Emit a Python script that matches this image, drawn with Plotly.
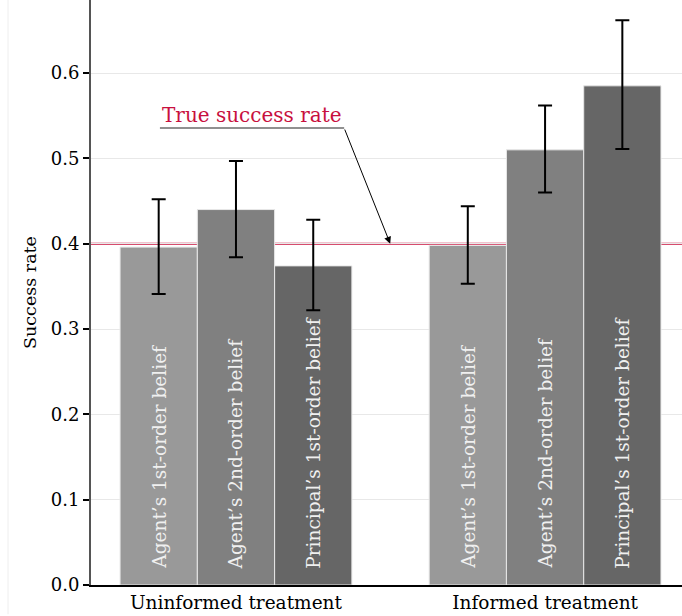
import plotly.graph_objects as go

categories = ["Uninformed treatment", "Informed treatment"]
series_names = ["Agent\u2019s 1st-order belief", "Agent\u2019s 2nd-order belief", "Principal\u2019s 1st-order belief"]
values = [
    [0.396, 0.398],
    [0.440, 0.510],
    [0.374, 0.585],
]
err_plus = [
    [0.056, 0.046],
    [0.057, 0.052],
    [0.054, 0.077],
]
err_minus = [
    [0.055, 0.045],
    [0.056, 0.050],
    [0.052, 0.074],
]
true_rate = 0.4
y_ticks = [0.0, 0.1, 0.2, 0.3, 0.4, 0.5, 0.6]

colors = ["#999999", "#808080", "#666666"]
FONT = "DejaVu Serif"
RED = "#c8103e"
FS = 18.5
BARGAP = 0.25
n_series = len(series_names)
bar_w = (1 - BARGAP) / n_series

fig = go.Figure()
for i, name in enumerate(series_names):
    fig.add_trace(go.Bar(
        x=categories, y=values[i], name=name,
        marker=dict(color=colors[i], line=dict(color="#e8e8e8", width=1)),
        error_y=dict(type="data", array=err_plus[i], arrayminus=err_minus[i],
                     color="black", thickness=2, width=7),
        cliponaxis=False,
    ))
    for c in range(len(categories)):
        fig.add_annotation(x=c + (i - (n_series - 1) / 2) * bar_w, y=0, xref="x", yref="y",
                           text=name, textangle=-90, showarrow=False,
                           yanchor="bottom", xanchor="center", yshift=14,
                           font=dict(family=FONT, size=FS, color="#f0f0f0"))

fig.add_shape(type="line", xref="paper", yref="y", x0=0, x1=1, y0=true_rate, y1=true_rate,
              line=dict(color=RED, width=2), layer="below")
# underline of label
fig.add_shape(type="line", xref="x", yref="y", x0=-0.246, x1=0.350, y0=0.5356, y1=0.5356,
              line=dict(color="#222222", width=1.2))
fig.add_annotation(x=0.052, y=0.5356, xref="x", yref="y", text="True success rate",
                   showarrow=False, yanchor="bottom", yshift=-1,
                   font=dict(family=FONT, size=20, color=RED))
fig.add_annotation(x=0.499, y=true_rate, xref="x", yref="y", text="",
                   showarrow=True, ax=0.350, ay=0.5356, axref="x", ayref="y",
                   arrowhead=2, arrowsize=1.4, arrowwidth=1, arrowcolor="black", standoff=0)
# faint figure border on the left
fig.add_shape(type="line", xref="paper", yref="paper", x0=-0.1404, x1=-0.1404, y0=-0.05, y1=1.0,
              line=dict(color="#eeeeee", width=1))

fig.update_layout(
    width=682, height=616,
    margin=dict(l=91, r=0, t=0, b=31, autoexpand=False),
    plot_bgcolor="white", paper_bgcolor="white",
    barmode="group", bargap=BARGAP, bargroupgap=0,
    showlegend=False,
    font=dict(family=FONT, size=FS, color="black"),
)
fig.update_xaxes(range=[-0.469, 1.443], showline=True, linecolor="black", linewidth=2,
                 ticks="", showgrid=False, tickfont=dict(family=FONT, size=FS), automargin=False)
fig.update_yaxes(range=[0, 0.6856], tickvals=y_ticks, tickformat=".1f",
                 showline=True, linecolor="#555555", linewidth=2,
                 ticks="outside", ticklen=6, tickcolor="black", tickwidth=1.5,
                 showgrid=True, gridcolor="#e8e8e8", gridwidth=1, zeroline=False,
                 title=dict(text="Success rate", font=dict(family=FONT, size=17.5), standoff=10),
                 tickfont=dict(family=FONT, size=18), automargin=False)

fig.write_html("out.html", config={"displayModeBar": False},
               post_script="document.body.style.margin='0';document.body.style.overflow='hidden';")
